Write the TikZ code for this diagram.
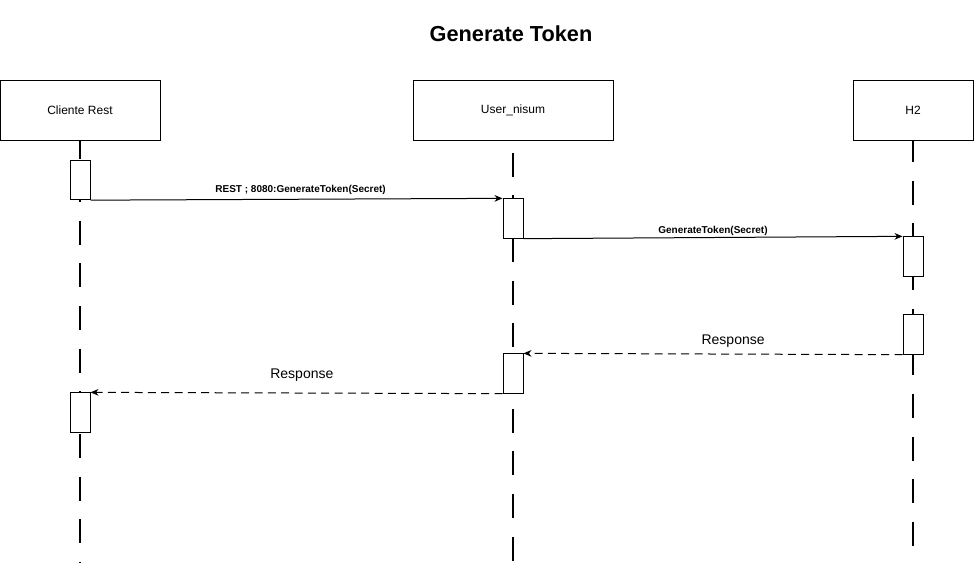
\documentclass[tikz,border=0pt]{standalone}
\usepackage{fontspec}
\setmainfont{Liberation Sans}
\usetikzlibrary{arrows.meta,positioning}

\tikzset{
    actor/.style={draw, line width=0.75pt, minimum height=45pt, inner sep=0pt, font=\fontsize{9}{11}\selectfont},
    lifeline/.style={line width=1.4pt, dash pattern=on 18pt off 14pt},
    activation/.style={draw, fill=white, line width=0.75pt, minimum width=15pt, minimum height=29.5pt, inner sep=0pt},
    call/.style={line width=0.75pt, -{Stealth[length=6pt,width=5pt]}},
    reply/.style={line width=0.75pt, dash pattern=on 6pt off 4pt, -{Stealth[length=6pt,width=5pt]}},
    msglabel/.style={font=\fontsize{7.5}{9}\selectfont\bfseries, inner sep=1pt},
    replylabel/.style={font=\fontsize{10.5}{12}\selectfont, inner sep=1pt}
}

\begin{document}
\begin{tikzpicture}[x=0.75pt,y=-0.75pt]
    \useasboundingbox (0,0) rectangle (974,562);

    % title
    \node[font=\fontsize{16.3}{19}\selectfont\bfseries] (title) at (511,34) {Generate Token};

    % participants
    \node[actor, minimum width=120pt] (cliente) at (80,110) {Cliente Rest};
    \node[actor, minimum width=150pt] (usuario) at (513,110) {User\_nisum};
    \node[actor, minimum width=90pt] (hdos) at (913,110) {H2};

    % lifelines
    \coordinate (clienteEnd) at (80,562);
    \coordinate (usuarioEnd) at (513,562);
    \coordinate (hdosEnd) at (913,562);
    \draw[lifeline, dash phase=4pt] (cliente.south) -- (clienteEnd);
    \draw[lifeline, dash phase=-9pt] (usuario.south) -- (usuarioEnd);
    \draw[lifeline, dash phase=2pt] (hdos.south) -- (hdosEnd);

    % activations
    \node[activation] (clienteA) at (80,180) {};
    \node[activation] (usuarioA) at (513,218.5) {};
    \node[activation] (hdosA) at (913,256.5) {};
    \node[activation] (hdosB) at (913,334.5) {};
    \node[activation] (usuarioB) at (513,373.5) {};
    \node[activation] (clienteB) at (80,412.5) {};

    % messages
    \draw[call] (clienteA.south east) -- (usuarioA.north west)
        node[msglabel, pos=0.51, above=2pt] {REST ; 8080:GenerateToken(Secret)};
    \draw[call] (usuarioA.south east) -- (hdosA.north west)
        node[msglabel, midway, above=0pt] {GenerateToken(Secret)};
    \draw[reply] (hdosB.south west) -- (usuarioB.north east)
        node[replylabel, pos=0.447, above=3.5pt] {Response};
    \draw[reply] (usuarioB.south west) -- (clienteB.north east)
        node[replylabel, pos=0.487, above=7pt] {Response};
\end{tikzpicture}
\end{document}
